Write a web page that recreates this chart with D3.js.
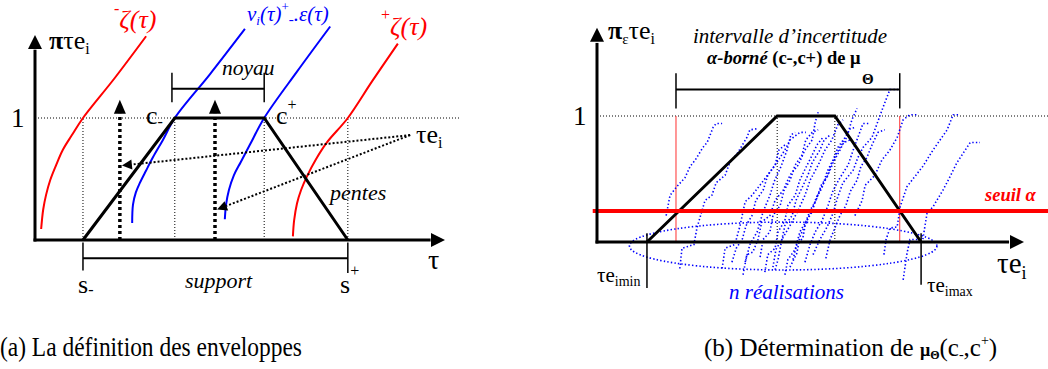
<!DOCTYPE html>
<html><head><meta charset="utf-8">
<script src="https://cdn.jsdelivr.net/npm/d3@7"></script>
<style>
body{margin:0;background:#fff}
svg{display:block}
text{font-family:"Liberation Serif","Times New Roman",serif}
</style>
</head><body>
<svg id="c" width="1048" height="369"></svg>
<script>
// ---------------- DATA (left panel: tau units 0..100, pi 0..1) ----------------
const leftTrapezoid = [[11.7,0],[34.1,1],[55.9,1],[76.3,0]];
const leftGuides = [11.7, 34.1, 55.9, 76.3];
const zetaMinus = [[1.5,0.09],[2.0,0.25],[2.7,0.37],[3.7,0.49],[5.1,0.61],[6.8,0.74],[9.0,0.86],[11.7,1.0],[19.5,1.33],[27.1,1.67]];
const zetaPlus  = [[62.9,0.03],[63.2,0.16],[63.9,0.30],[64.9,0.41],[66.3,0.52],[68.5,0.66],[71.2,0.80],[76.3,1.0],[82.2,1.30],[88.5,1.61]];
const nuMinus   = [[23.7,0.14],[23.9,0.29],[24.6,0.39],[25.6,0.47],[27.1,0.57],[28.8,0.68],[31.2,0.82],[34.1,1.0],[42.7,1.36],[51.2,1.73]];
const nuPlus    = [[46.3,0.17],[46.6,0.29],[47.3,0.41],[48.5,0.53],[50.2,0.64],[52.4,0.78],[55.9,1.0],[63.9,1.38],[72.0,1.75]];
const upArrowsX = [20.7, 43.9];
const upArrowTop = 1.15;
const tauPointerFrom = [91.5, 0.86];
const tauPointerTo = [[21.2,0.61],[44.4,0.25]];
const noyauRange = [33.4, 55.9];
const supportRange = [11.7, 76.3];

// ---------------- DATA (right panel) ----------------
const rightTrapezoid = [[11.7,0],[42.2,1],[55.7,1],[75.9,0]];
const rightGuides = [42.2, 55.7];
const alphaLevel = 0.246;
const alphaCuts = [18.5, 70.9];
const teRange = [11.7, 75.9];
const cloud = {cx:43.6, cy:-0.032, rx:36, ry:0.19};
const realisations = [
  [[16.2,0.21],[17.1,0.37],[18.7,0.44],[20.6,0.51],[21.8,0.60],[23.0,0.65],[24.8,0.75],[25.8,0.79],[27.2,0.91],[27.9,0.94],[29.3,0.94]],
  [[19.4,-0.21],[19.9,-0.05],[22.7,-0.02],[23.4,0.11],[24.6,0.25],[25.3,0.33],[26.9,0.37],[27.9,0.47],[30.0,0.53],[31.1,0.63],[33.0,0.71],[35.1,0.83],[35.8,0.89],[37.7,0.90]],
  [[29.3,-0.21],[30.0,-0.05],[32.3,-0.02],[33.5,0.13],[34.7,0.32],[36.3,0.37],[38.6,0.47],[41.7,0.61],[44.0,0.73],[45.2,0.81],[47.5,0.87],[48.9,0.87]],
  [[34.2,-0.26],[35.1,-0.10],[36.5,-0.08],[37.7,0.02],[38.6,0.16],[40.5,0.21],[41.7,0.33],[43.6,0.41],[45.2,0.53],[47.1,0.61],[48.7,0.73],[50.4,0.81],[51.1,0.95],[51.8,1.03]],
  [[34.7,-0.16],[35.8,-0.02],[37.5,0.08],[38.9,0.24],[40.5,0.37],[41.5,0.48],[43.1,0.60],[44.5,0.73],[45.4,0.85],[46.4,0.87]],
  [[41.7,-0.22],[42.4,-0.14],[43.3,0.02],[45.2,0.13],[47.1,0.25],[48.7,0.37],[49.9,0.49],[51.8,0.61],[53.4,0.73],[55.0,0.81],[56.4,0.93],[57.6,0.97]],
  [[45.2,-0.20],[46.8,-0.09],[47.5,0.04],[49.2,0.17],[50.6,0.28],[52.2,0.41],[53.9,0.52],[55.0,0.63],[56.9,0.75],[58.5,0.83],[59.7,0.97],[60.9,1.06]],
  [[50.6,-0.10],[52.2,0.02],[53.9,0.12],[55.3,0.23],[56.4,0.36],[57.6,0.47],[60.0,0.57],[61.1,0.67],[62.3,0.75],[64.4,0.83],[65.6,0.94],[67.0,1.07],[68.6,1.21],[70.5,1.21]],
  [[53.6,-0.13],[54.6,0.02],[55.7,0.11],[56.9,0.21],[58.3,0.29],[59.3,0.40],[60.9,0.49],[61.8,0.60],[63.2,0.67],[64.4,0.77],[65.8,0.87],[67.4,0.89]],
  [[48.7,-0.16],[49.9,-0.02],[51.1,0.08],[52.7,0.17],[54.1,0.29],[55.3,0.41],[56.9,0.51],[58.8,0.61],[60.0,0.73],[61.1,0.83],[62.3,0.94],[63.9,0.94]],
  [[41.2,-0.20],[41.9,-0.06],[43.3,0.02],[44.0,0.13],[45.7,0.21],[46.6,0.33],[48.0,0.43],[49.4,0.53],[50.4,0.63],[52.2,0.73],[53.2,0.81],[54.6,0.85]],
  [[38.2,-0.12],[38.9,0.02],[40.5,0.08],[41.2,0.21],[42.9,0.29],[43.8,0.41],[45.2,0.49],[46.4,0.61],[48.0,0.69],[48.9,0.81],[50.4,0.87],[51.8,0.89]],
  [[45.9,-0.14],[46.8,-0.02],[48.2,0.03],[48.9,0.16],[50.4,0.24],[51.3,0.35],[52.7,0.43],[53.9,0.56],[55.3,0.65],[56.4,0.75],[58.1,0.83],[59.3,0.90],[60.7,0.91]],
  [[39.3,-0.24],[40.0,-0.10],[41.7,-0.05],[42.4,0.08],[44.0,0.17],[44.7,0.29],[46.4,0.37],[47.5,0.49],[48.9,0.59],[50.4,0.69],[51.5,0.77],[52.9,0.83]],
  [[44.0,-0.26],[44.7,-0.14],[46.4,-0.06],[47.5,0.08],[48.9,0.16],[49.9,0.25],[51.3,0.33],[52.5,0.45],[54.1,0.53],[55.3,0.63],[56.9,0.73],[57.8,0.79],[59.3,0.81]],
  [[31.6,-0.16],[32.6,-0.05],[34.0,0.02],[34.9,0.13],[36.3,0.21],[37.2,0.33],[38.9,0.41],[40.0,0.53],[41.7,0.61],[42.6,0.73],[44.0,0.77]],
  [[71.7,-0.30],[72.6,-0.09],[73.3,0.02],[76.3,0.02],[77.3,0.23],[78.7,0.28],[81.0,0.41],[82.7,0.52],[84.3,0.63],[87.4,0.79],[89.7,0.79]],
  [[67.2,-0.10],[67.7,0.02],[68.6,0.11],[70.3,0.12],[71.0,0.28],[72.6,0.44],[76.3,0.60],[78.7,0.73],[82.0,0.89],[83.4,1.01],[85.0,1.01]],
  [[60.4,0.21],[62.1,0.33],[62.8,0.45],[65.1,0.53],[66.7,0.65],[68.6,0.73],[70.3,0.83],[71.7,0.97],[73.3,1.01],[74.9,1.01]]
];

// ---------------- SCALES ----------------
const L = {x: d3.scaleLinear().domain([0,100]).range([35,445]),
           y: d3.scaleLinear().domain([0,1]).range([240,118])};
const R = {x: d3.scaleLinear().domain([0,100]).range([597,1024]),
           y: d3.scaleLinear().domain([0,1]).range([242,116])};

const svg = d3.select("#c");
const RED = "#ff0000", BLUE = "#0000ff";

function arrowHead(g, x1, y1, x2, y2, len, half){
  const a = Math.atan2(y2-y1, x2-x1);
  const bx = x2 - len*Math.cos(a), by = y2 - len*Math.sin(a);
  const px = -Math.sin(a)*half, py = Math.cos(a)*half;
  g.append("path").attr("d", `M${x2},${y2}L${bx+px},${by+py}L${bx-px},${by-py}Z`).attr("fill","#000");
  return [bx, by];
}
function label(g, x, y, size, parts, attrs){
  const t = g.append("text").attr("x",x).attr("y",y).attr("font-size",size);
  if (attrs) for (const k in attrs) t.attr(k, attrs[k]);
  let prev = 0;
  parts.forEach(p => {
    const sh = p.sh || 0;
    const ts = t.append("tspan").text(p.t).attr("dy", sh - prev);
    if (p.dx) ts.attr("dx", p.dx);
    if (p.s) ts.attr("font-size", p.s);
    if (p.it) ts.attr("font-style","italic");
    if (p.b) ts.attr("font-weight","bold");
    if (p.f) ts.attr("fill", p.f);
    prev = sh;
  });
  return t;
}

// =============== LEFT PANEL ===============
const gl = svg.append("g");
const lineL = d3.line().x(d=>L.x(d[0])).y(d=>L.y(d[1]));
const curveL = d3.line().x(d=>L.x(d[0])).y(d=>L.y(d[1])).curve(d3.curveCatmullRom.alpha(0.5));

gl.append("line").attr("x1",L.x(0)).attr("x2",L.x(103.7)).attr("y1",L.y(1)).attr("y2",L.y(1))
  .attr("stroke","#000").attr("stroke-width",1).attr("stroke-dasharray","1,2");
leftGuides.forEach(v => gl.append("line").attr("x1",L.x(v)).attr("x2",L.x(v)).attr("y1",L.y(0)).attr("y2",L.y(1))
  .attr("stroke","#000").attr("stroke-width",1).attr("stroke-dasharray","1,2"));

gl.append("path").attr("d",curveL(zetaMinus)).attr("fill","none").attr("stroke",RED).attr("stroke-width",2);
gl.append("path").attr("d",curveL(zetaPlus)).attr("fill","none").attr("stroke",RED).attr("stroke-width",2);
gl.append("path").attr("d",curveL(nuMinus)).attr("fill","none").attr("stroke",BLUE).attr("stroke-width",2);
gl.append("path").attr("d",curveL(nuPlus)).attr("fill","none").attr("stroke",BLUE).attr("stroke-width",2);

gl.append("path").attr("d",lineL(leftTrapezoid)).attr("fill","none").attr("stroke","#000").attr("stroke-width",3);

upArrowsX.forEach(v => {
  const x = L.x(v), y0 = L.y(0), yt = L.y(upArrowTop);
  const base = arrowHead(gl, x, y0, x, yt, 14, 6);
  gl.append("line").attr("x1",x).attr("x2",x).attr("y1",y0).attr("y2",base[1])
    .attr("stroke","#000").attr("stroke-width",3.5).attr("stroke-dasharray","3,3");
});
tauPointerTo.forEach(p => {
  const x1 = L.x(tauPointerFrom[0]), y1 = L.y(tauPointerFrom[1]);
  const x2 = L.x(p[0]), y2 = L.y(p[1]);
  const base = arrowHead(gl, x1, y1, x2, y2, 10, 5);
  gl.append("line").attr("x1",x1).attr("y1",y1).attr("x2",base[0]).attr("y2",base[1])
    .attr("stroke","#000").attr("stroke-width",2).attr("stroke-dasharray","2,2");
});

gl.append("line").attr("x1",L.x(noyauRange[0])).attr("x2",L.x(noyauRange[1])).attr("y1",L.y(1.24)).attr("y2",L.y(1.24)).attr("stroke","#000").attr("stroke-width",2);
noyauRange.forEach(v => gl.append("line").attr("x1",L.x(v)).attr("x2",L.x(v)).attr("y1",L.y(1.37)).attr("y2",L.y(1.13)).attr("stroke","#000").attr("stroke-width",1.5));
gl.append("line").attr("x1",L.x(supportRange[0])).attr("x2",L.x(supportRange[1])).attr("y1",L.y(-0.15)).attr("y2",L.y(-0.15)).attr("stroke","#000").attr("stroke-width",2);
supportRange.forEach((v,i) => gl.append("line").attr("x1",L.x(v)).attr("x2",L.x(v)).attr("y1",L.y(-0.02)).attr("y2",L.y(i? -0.27 : -0.25)).attr("stroke","#000").attr("stroke-width",1.5));

gl.append("line").attr("x1",L.x(0)).attr("x2",L.x(0)).attr("y1",L.y(0)+1.5).attr("y2",L.y(1.56)).attr("stroke","#000").attr("stroke-width",3);
arrowHead(gl, L.x(0), L.y(0), L.x(0), L.y(1.68), 14, 7);
gl.append("line").attr("x1",L.x(0)-1.5).attr("x2",L.x(96.5)).attr("y1",L.y(0)).attr("y2",L.y(0)).attr("stroke","#000").attr("stroke-width",3);
arrowHead(gl, L.x(0), L.y(0), L.x(100), L.y(0), 14, 7);

label(gl, 11, 127, 27, [{t:"1"}]);
label(gl, 49, 49, 26, [{t:"π", b:true},{t:"τe"},{t:"i", s:16, sh:5}]);
label(gl, 114, 28, 26, [{t:"-", s:16, sh:-14},{t:"ζ(τ)", it:true}], {fill:RED});
label(gl, 381, 35, 26, [{t:"+", s:16, sh:-15},{t:"ζ(τ)", it:true}], {fill:RED});
label(gl, 247, 21, 21, [{t:"v", it:true},{t:"i", it:true, s:13, sh:4},{t:"(τ)", it:true},{t:"+", s:13, sh:-10},{t:"-", s:15, sh:3},{t:".ε(τ)", it:true}], {fill:BLUE});
label(gl, 222, 75, 21.5, [{t:"noyau", it:true}]);
label(gl, 146, 124, 26, [{t:"c"},{t:"-", s:16, sh:3}]);
label(gl, 276, 124, 26, [{t:"c"},{t:"+", s:16, sh:-14}]);
label(gl, 416, 143, 26, [{t:"τe"},{t:"i", s:16, sh:5}]);
label(gl, 330, 200, 22, [{t:"pentes", it:true}]);
label(gl, 78, 293, 26, [{t:"s"},{t:"-", s:16, sh:2}]);
label(gl, 185, 288, 22, [{t:"support", it:true}]);
label(gl, 340, 293, 26, [{t:"s"},{t:"+", s:16, sh:-17}]);
label(gl, 428, 269, 28, [{t:"τ"}]);

// =============== RIGHT PANEL ===============
const gr = svg.append("g");
const lineR = d3.line().x(d=>R.x(d[0])).y(d=>R.y(d[1]));

gr.append("line").attr("x1",R.x(0)).attr("x2",1048).attr("y1",R.y(1)).attr("y2",R.y(1))
  .attr("stroke","#000").attr("stroke-width",1).attr("stroke-dasharray","1,2");
rightGuides.forEach(v => gr.append("line").attr("x1",R.x(v)).attr("x2",R.x(v)).attr("y1",R.y(0)).attr("y2",R.y(1))
  .attr("stroke","#000").attr("stroke-width",1).attr("stroke-dasharray","1,2"));
alphaCuts.forEach(v => gr.append("line").attr("x1",R.x(v)).attr("x2",R.x(v)).attr("y1",R.y(1)).attr("y2",R.y(0)+1)
  .attr("stroke","#ff3030").attr("stroke-width",1));

realisations.forEach(r => gr.append("path").attr("d",lineR(r)).attr("fill","none")
  .attr("stroke",BLUE).attr("stroke-width",1.6).attr("stroke-dasharray","1.4,2.2"));
gr.append("ellipse").attr("cx",R.x(cloud.cx)).attr("cy",R.y(cloud.cy))
  .attr("rx",R.x(cloud.cx+cloud.rx)-R.x(cloud.cx)).attr("ry",R.y(0)-R.y(cloud.ry))
  .attr("fill","none").attr("stroke",BLUE).attr("stroke-width",1.6).attr("stroke-dasharray","1.4,2.2");

gr.append("path").attr("d",lineR(rightTrapezoid)).attr("fill","none").attr("stroke","#000").attr("stroke-width",3);
gr.append("line").attr("x1",R.x(-1)).attr("x2",1048).attr("y1",R.y(alphaLevel)).attr("y2",R.y(alphaLevel))
  .attr("stroke",RED).attr("stroke-width",4);

gr.append("line").attr("x1",R.x(alphaCuts[0])).attr("x2",R.x(alphaCuts[1])).attr("y1",R.y(1.21)).attr("y2",R.y(1.21)).attr("stroke","#000").attr("stroke-width",2);
alphaCuts.forEach(v => gr.append("line").attr("x1",R.x(v)).attr("x2",R.x(v)).attr("y1",R.y(1.34)).attr("y2",R.y(1.06)).attr("stroke","#000").attr("stroke-width",1.5));
teRange.forEach((v,i) => gr.append("line").attr("x1",R.x(v)).attr("x2",R.x(v)).attr("y1",R.y(0.07)).attr("y2",R.y(i? -0.34 : -0.365)).attr("stroke","#000").attr("stroke-width",1.5));

gr.append("line").attr("x1",R.x(0)).attr("x2",R.x(0)).attr("y1",R.y(0)+1.5).attr("y2",R.y(1.58)).attr("stroke","#000").attr("stroke-width",3);
arrowHead(gr, R.x(0), R.y(0), R.x(0), R.y(1.70), 14, 7);
gr.append("line").attr("x1",R.x(0)-1.5).attr("x2",R.x(96.5)).attr("y1",R.y(0)).attr("y2",R.y(0)).attr("stroke","#000").attr("stroke-width",3);
arrowHead(gr, R.x(0), R.y(0), R.x(100), R.y(0), 14, 7);

label(gr, 573, 125, 27, [{t:"1"}]);
label(gr, 608, 39, 26, [{t:"π", b:true},{t:"ε", s:15, sh:5},{t:"τe", sh:0},{t:"i", s:16, sh:5}]);
label(gr, 790, 43, 21, [{t:"intervalle d’incertitude", it:true}], {"text-anchor":"middle"});
label(gr, 707, 64, 18.5, [{t:"α-borné", it:true, b:true},{t:" (c-,c+) de μ", b:true}]);
label(gr, 862, 84, 15, [{t:"Θ", b:true}]);
label(gr, 985, 201, 18.5, [{t:"seuil  α", it:true, b:true}], {fill:RED});
label(gr, 597, 282, 21, [{t:"τe"},{t:"imin", s:14, sh:4}]);
label(gr, 927, 292, 21, [{t:"τe"},{t:"imax", s:14, sh:4}]);
label(gr, 997, 273, 29, [{t:"τe"},{t:"i", s:18, sh:6}]);
label(gr, 729, 299, 21, [{t:"n réalisations", it:true}], {fill:BLUE});

// captions
label(svg, 0, 356, 27, [{t:"(a) La définition des enveloppes"}], {textLength:302, lengthAdjust:"spacingAndGlyphs"});
label(svg, 704, 356, 25, [{t:"(b) Détermination de "},{t:"μ", b:true, s:18},{t:"Θ", b:true, s:12, sh:3},{t:"(c", sh:0},{t:"-", s:14, sh:3},{t:",c", sh:0},{t:"+", s:14, sh:-11},{t:")", sh:0}]);
</script>
</body></html>
